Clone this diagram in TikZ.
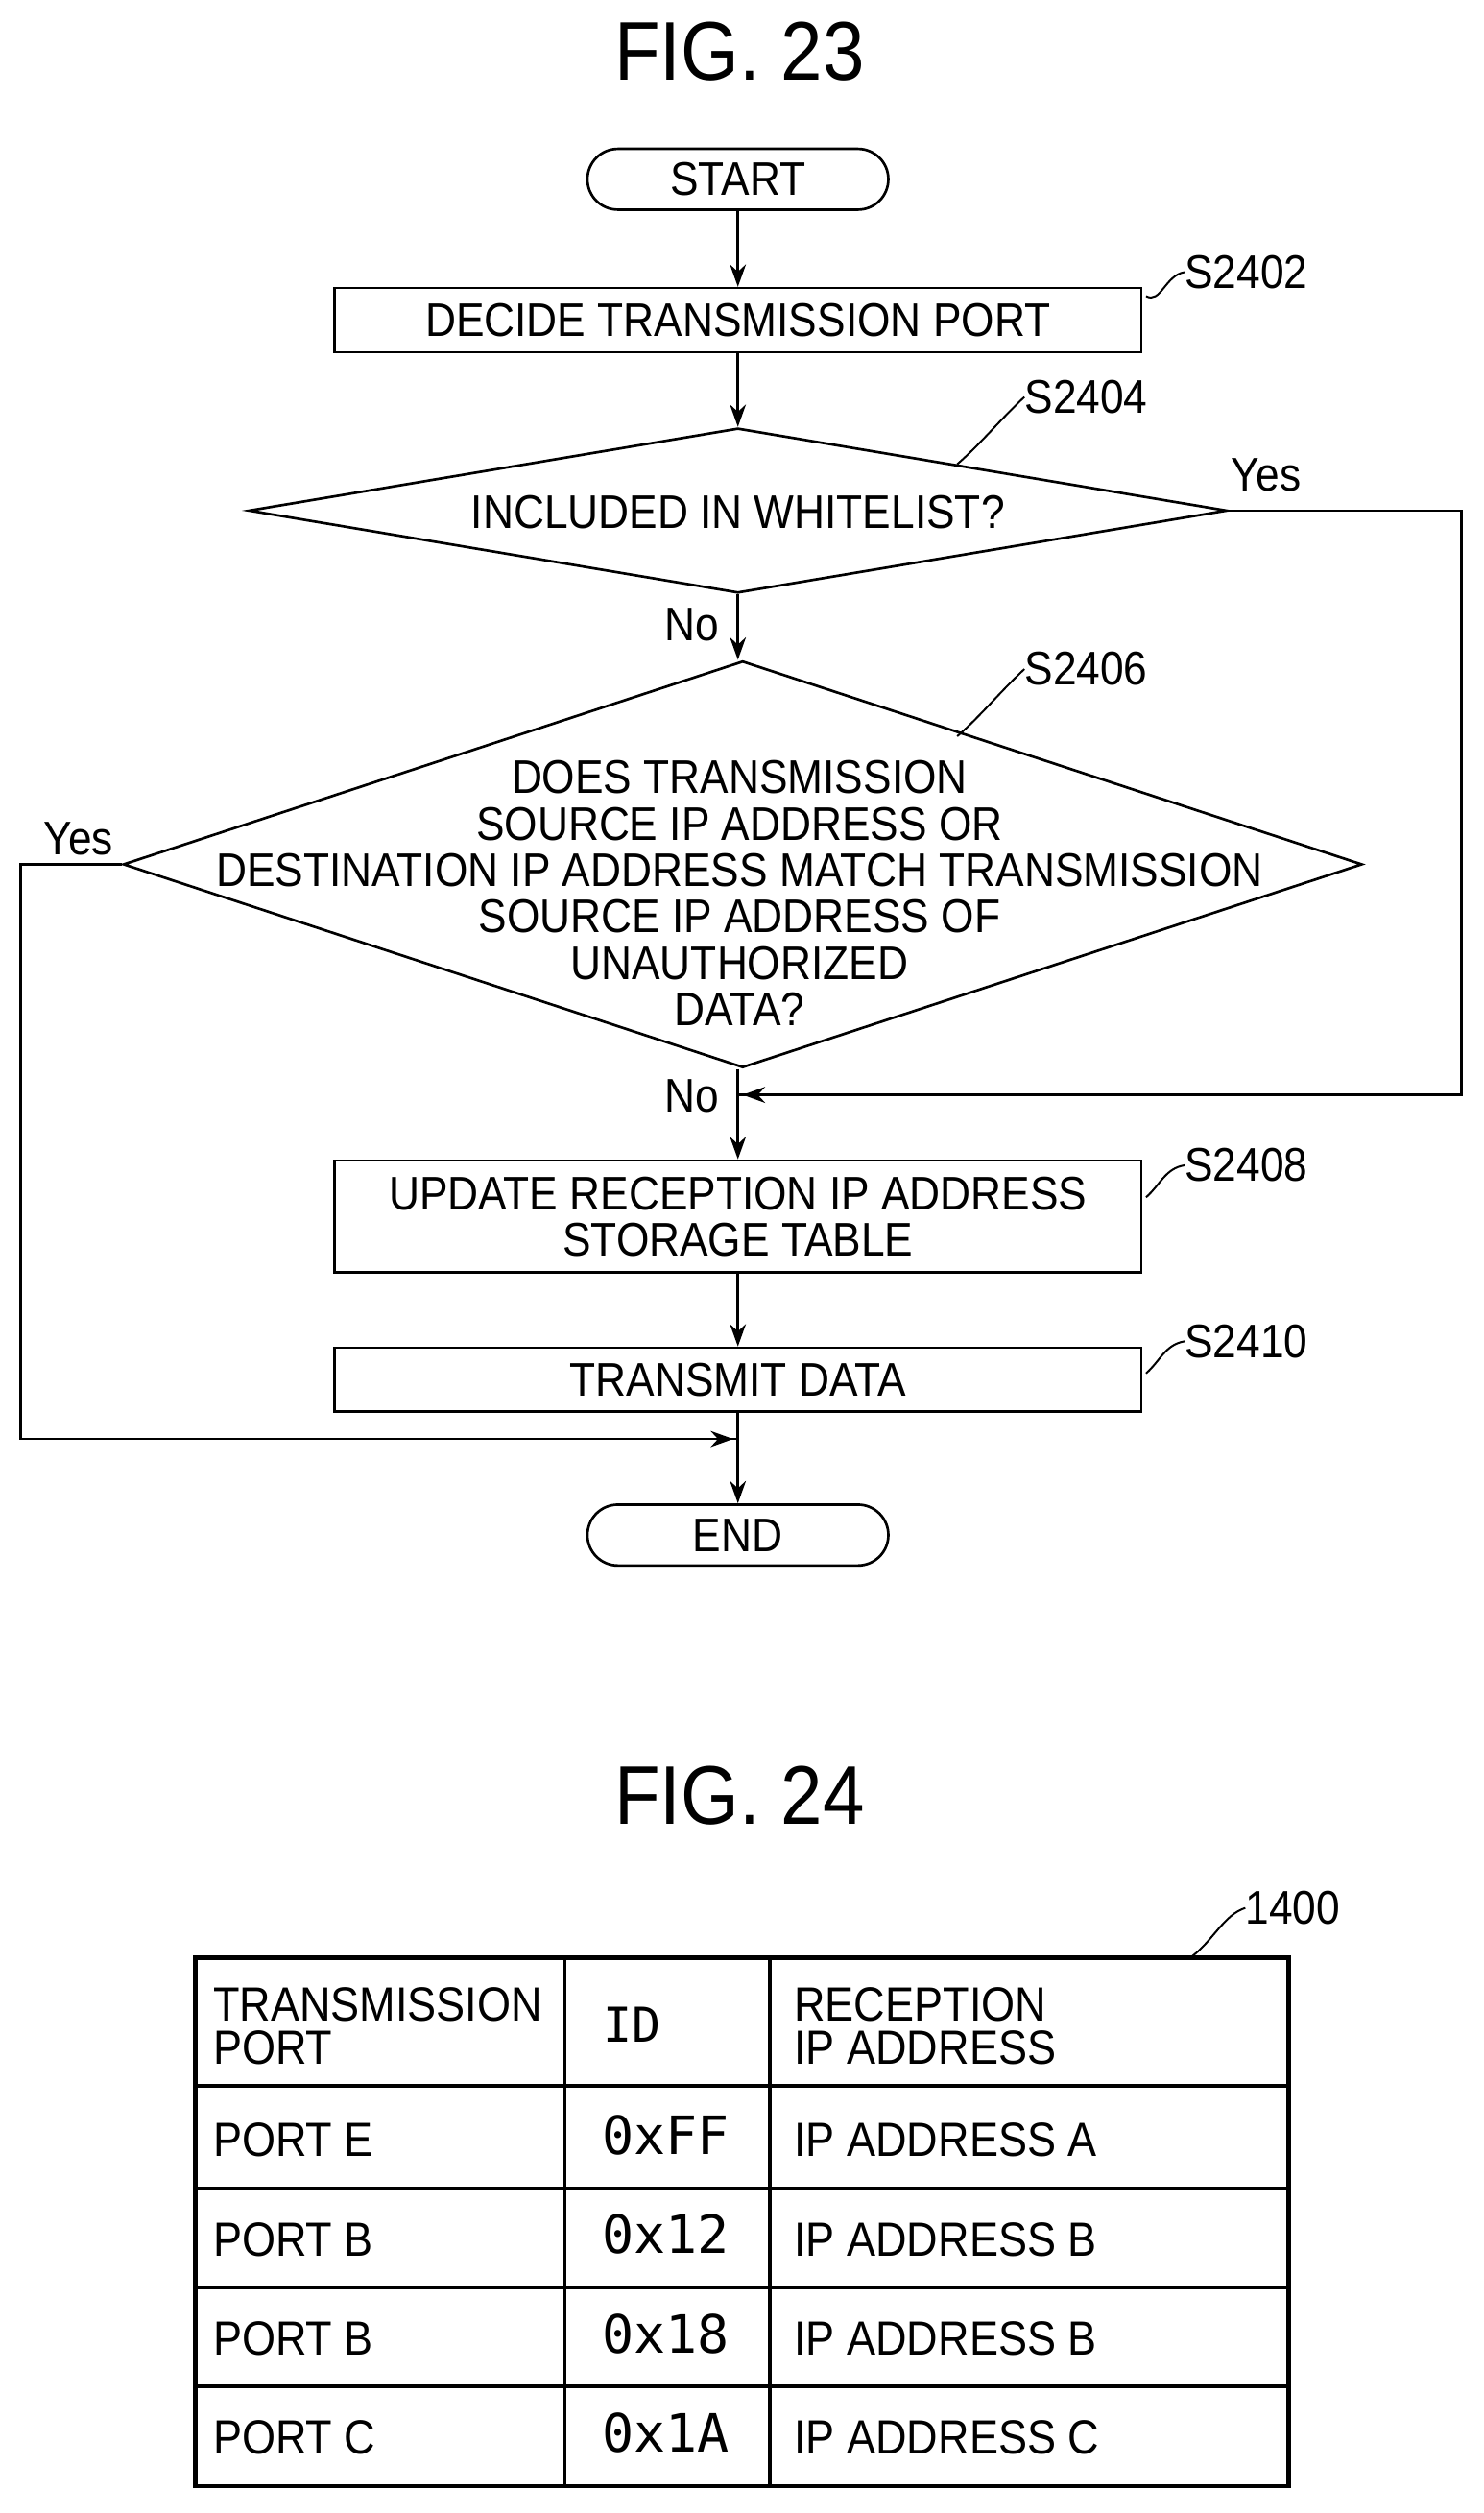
\documentclass[tikz,border=0pt]{standalone}
\usepackage{fontspec}
\setmainfont[FakeStretch=0.9]{Liberation Sans}
\newfontfamily\idfont{DejaVu Sans Mono}
\usetikzlibrary{shapes.geometric,arrows.meta}
\begin{document}
\begin{tikzpicture}[x=1pt,y=-1pt,
  txt/.style={font=\fontsize{29.5}{29}\selectfont,inner sep=0pt},
  box/.style={draw,line width=1.6pt,minimum width=504pt,txt,align=center},
  term/.style={draw,line width=1.6pt,rounded corners=19pt,minimum width=188pt,minimum height=38pt,txt},
  ln/.style={line width=1.6pt},
  arr/.style={ln,-{Stealth[length=14pt,width=10pt]}},
  lab/.style={txt,anchor=west},
  sq/.style={line width=1.2pt},
  cell/.style={txt,anchor=west,align=left,font=\fontsize{30}{27}\selectfont}]
\useasboundingbox (0,0) rectangle (927,1570);
\node[txt,font=\fontsize{52}{52}\selectfont] (f23) at (462,32) {FIG. 23};
\node[term] (start) at (461,112) {START};
\node[box,minimum height=40pt] (s2402) at (461,200) {DECIDE TRANSMISSION PORT};
\node[draw,ln,diamond,aspect=5.93,inner sep=0pt,minimum width=611pt,minimum height=103pt] (d1) at (461,319) {};
\node[txt] at (461,320) {INCLUDED IN WHITELIST?};
\node[draw,ln,diamond,aspect=3.05,inner sep=0pt,minimum width=774pt,minimum height=254pt] (d2) at (464,540) {};
\node[txt,align=center] at (462,558) {DOES TRANSMISSION\\SOURCE IP ADDRESS OR\\DESTINATION IP ADDRESS MATCH TRANSMISSION\\SOURCE IP ADDRESS OF\\UNAUTHORIZED\\DATA?};
\node[box,minimum height=70pt] (s2408) at (461,760) {UPDATE RECEPTION IP ADDRESS\\STORAGE TABLE};
\node[box,minimum height=40pt] (s2410) at (461,862) {TRANSMIT DATA};
\node[term] (end) at (461,959) {END};
\coordinate (j1) at (461,684);
\coordinate (j2) at (461,899);
\coordinate (r1) at (913,319);
\coordinate (r2) at (913,684);
\coordinate (l1) at (13,540);
\coordinate (l2) at (13,899);
\draw[arr] (start) -- (s2402);
\draw[arr] (s2402) -- (d1);
\draw[arr] (d1.south) -- (d2.north -| d1.south);
\draw[arr] (d2.south -| s2408.north) -- (s2408);
\draw[arr] (s2408) -- (s2410);
\draw[arr] (s2410) -- (end);
\draw[ln] (d1.east) -- (r1) -- (r2) -- (j1);
\draw[arr] (r2) -- ([xshift=3pt]j1);
\draw[ln] (d2.west) -- (l1) -- (l2) -- (j2);
\draw[arr] (l2) -- ([xshift=-3pt]j2);
\node[txt] (yes1) at (791,297) {Yes};
\node[txt] (no1) at (432,390) {No};
\node[txt] (yes2) at (49,524) {Yes};
\node[txt] (no2) at (432,685) {No};
\node[lab] (l2402) at (740,170) {S2402};
\node[lab] (l2404) at (640,248) {S2404};
\node[lab] (l2406) at (640,418) {S2406};
\node[lab] (l2408) at (740,728) {S2408};
\node[lab] (l2410) at (740,838) {S2410};
\draw[sq] (716,185) .. controls (725,190) and (728,172) .. (l2402.west);
\draw[sq] (598,290) .. controls (612,278) and (625,262) .. (l2404.west);
\draw[sq] (598,460) .. controls (612,448) and (625,432) .. (l2406.west);
\draw[sq] (716,748) .. controls (725,740) and (728,730) .. (l2408.west);
\draw[sq] (716,858) .. controls (725,850) and (728,840) .. (l2410.west);
% FIG 24
\node[txt,font=\fontsize{52}{52}\selectfont] (f24) at (462,1122) {FIG. 24};
\node[lab] (l1400) at (778,1192) {1400};
\draw[sq] (745,1222) .. controls (758,1212) and (765,1196) .. (l1400.west);
\draw[line width=2.6pt] (122,1223) rectangle (805,1553);
\foreach \y in {1303,1367,1429,1491} \draw[line width=2.2pt] (122,\y) -- (805,\y);
\foreach \x in {353,481} \draw[line width=2.2pt] (\x,1223) -- (\x,1553);
\node[cell] (h1) at (133,1266) {TRANSMISSION\\PORT};
\node[txt,font=\idfont\fontsize{30}{26}\selectfont] (h2) at (395,1265) {ID};
\node[cell] (h3) at (496,1266) {RECEPTION\\IP ADDRESS};
\foreach \y/\a/\b/\c in {1337/PORT E/0xFF/IP ADDRESS A,1399/PORT B/0x12/IP ADDRESS B,1461/PORT B/0x18/IP ADDRESS B,1523/PORT C/0x1A/IP ADDRESS C}{
  \node[cell] at (133,\y) {\a};
  \node[txt,font=\idfont\fontsize{33}{27}\selectfont] at (416,\y-3) {\b};
  \node[cell] at (496,\y) {\c};
}
\end{tikzpicture}
\end{document}
